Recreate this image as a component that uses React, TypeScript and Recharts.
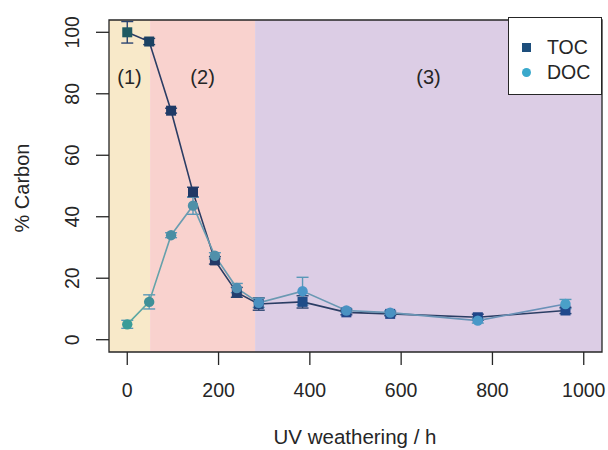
import {
  ComposedChart,
  ErrorBar,
  Legend,
  Line,
  ReferenceArea,
  XAxis,
  YAxis,
} from 'recharts';

// UV weathering time (h) and % carbon remaining
const hours = [0, 48, 96, 144, 192, 240, 288, 384, 480, 576, 768, 960];
const toc = [100, 97, 74.5, 48, 25.8, 15.4, 11.6, 12.3, 8.9, 8.4, 7.3, 9.5];
const tocSd = [3.5, 1, 0.8, 1.6, 1.2, 1.6, 2, 2, 0.8, 0.6, 1, 1];
const doc = [5, 12.3, 34, 43.6, 27.3, 16.8, 12, 15.8, 9.5, 8.8, 6.2, 11.6];
const docSd = [1.3, 2.3, 0.8, 2.8, 1, 1.5, 1.5, 4.5, 0.6, 0.6, 0.8, 1.5];

const stageLabels = ['(1)', '(2)', '(3)'];
const stageEdges = [-40, 50, 280, 1040];
const seriesNames = ['TOC', 'DOC'];

const xTicks = [0, 200, 400, 600, 800, 1000];
const yTicks = [0, 20, 40, 60, 80, 100];

const stageFills = ['#f8e9c9', '#f9d2ce', '#dccde5'];
const tocColors = ['#1f5a62', '#1b4262', '#1f3a66', '#1f3866', '#243a68', '#233f70',
  '#254a80', '#1f4c88', '#22468a', '#22488a', '#1f4488', '#20488c'];
const docColors = ['#3a9c98', '#3f9098', '#4a8ea4', '#4e90a8', '#5090aa', '#4f8eb2',
  '#4b90c0', '#4a96c8', '#4a92c2', '#4a92c2', '#4898c8', '#4aa0c8'];
const ink = '#262626';

const data = hours.map((h, i) => ({
  hour: h,
  toc: toc[i],
  tocSd: tocSd[i],
  doc: doc[i],
  docSd: docSd[i],
}));

const TocDot = (props: any) => {
  const { cx, cy, index } = props;
  if (cx == null || cy == null) return null;
  return <rect key={`t${index}`} x={cx - 5} y={cy - 5} width={10} height={10} fill={tocColors[index]} />;
};

const DocDot = (props: any) => {
  const { cx, cy, index } = props;
  if (cx == null || cy == null) return null;
  return <circle key={`d${index}`} cx={cx} cy={cy} r={5.2} fill={docColors[index]} />;
};

const XTick = (props: any) => (
  <text x={props.x} y={props.y + 23} textAnchor="middle" dominantBaseline="central" fontSize={19.5} fill={ink}>
    {props.payload.value}
  </text>
);

const YTick = (props: any) => {
  const x = props.x - 22;
  return (
    <text
      x={x}
      y={props.y}
      textAnchor="middle"
      dominantBaseline="central"
      fontSize={19.5}
      fill={ink}
      transform={`rotate(-90, ${x}, ${props.y})`}
    >
      {props.payload.value}
    </text>
  );
};

const LegendBox = () => (
  <div
    style={{
      border: `1.5px solid ${ink}`,
      background: '#fff',
      width: 94,
      height: 78,
      boxSizing: 'border-box',
      padding: '17px 0 0 13px',
      fontSize: 19.5,
      color: ink,
      lineHeight: '25px',
    }}
  >
    {seriesNames.map((name, i) => (
      <div key={name} style={{ display: 'flex', alignItems: 'center' }}>
        <span
          style={{
            display: 'inline-block',
            width: 9,
            height: 9,
            borderRadius: i === 0 ? 0 : '50%',
            background: i === 0 ? '#1d4e7c' : '#3aa9cc',
            marginRight: 16,
          }}
        />
        {name}
      </div>
    ))}
  </div>
);

export default function App() {
  return (
    <div
      style={{
        position: 'absolute',
        left: 0,
        top: 0,
        width: 608,
        height: 450,
        background: '#fff',
        fontFamily: '"Liberation Sans", Arial, sans-serif',
      }}
    >
      <ComposedChart width={608} height={450} data={data} margin={{ top: 20, right: 6, bottom: 0, left: 0 }}>
        <defs>
          <linearGradient id="docStroke" x1="0" y1="0" x2="1" y2="0">
            <stop offset="0%" stopColor="#5aaaa0" />
            <stop offset="12%" stopColor="#6a9cb0" />
            <stop offset="100%" stopColor="#6a90b8" />
          </linearGradient>
        </defs>
        <XAxis
          dataKey="hour"
          type="number"
          domain={[-40, 1040]}
          ticks={xTicks}
          allowDataOverflow
          height={98}
          axisLine={false}
          tickSize={13}
          tickLine={{ stroke: ink, strokeWidth: 1.3 }}
          tick={<XTick />}
          label={{
            content: () => (
              <text x={355} y={444} textAnchor="middle" fontSize={20.5} fill={ink}>
                UV weathering / h
              </text>
            ),
          }}
        />
        <YAxis
          type="number"
          domain={[-4, 104]}
          ticks={yTicks}
          allowDataOverflow
          width={109}
          axisLine={false}
          tickSize={13}
          tickLine={{ stroke: ink, strokeWidth: 1.3 }}
          tick={<YTick />}
          label={{
            content: () => (
              <text
                x={22}
                y={188}
                textAnchor="middle"
                dominantBaseline="central"
                fontSize={20}
                fill={ink}
                transform="rotate(-90, 22, 188)"
              >
                % Carbon
              </text>
            ),
          }}
        />
        {stageLabels.map((lab, i) => (
          <ReferenceArea
            key={lab}
            x1={stageEdges[i]}
            x2={stageEdges[i + 1]}
            y1={-4}
            y2={104}
            fill={stageFills[i]}
            fillOpacity={1}
            stroke="none"
            label={{ value: lab, position: 'insideTop', offset: 50, fontSize: 20, fill: ink }}
          />
        ))}
        <ReferenceArea x1={-40} x2={1040} y1={-4} y2={104} fill="none" stroke={ink} strokeWidth={1.3} />
        <Line
          dataKey="toc"
          name={seriesNames[0]}
          stroke="#2b3d64"
          strokeWidth={1.6}
          dot={<TocDot />}
          activeDot={false}
          isAnimationActive={false}
        >
          <ErrorBar dataKey="tocSd" direction="y" width={6} stroke="#2a4470" strokeWidth={1.4} />
        </Line>
        <Line
          dataKey="doc"
          name={seriesNames[1]}
          stroke="url(#docStroke)"
          strokeWidth={1.6}
          dot={<DocDot />}
          activeDot={false}
          isAnimationActive={false}
        >
          <ErrorBar dataKey="docSd" direction="y" width={6} stroke="#5a98b8" strokeWidth={1.4} />
        </Line>
        <Legend
          layout="horizontal"
          verticalAlign="middle"
          align="center"
          wrapperStyle={{ position: 'absolute', top: 17, left: 508, width: 94, height: 78 }}
          content={() => <LegendBox />}
        />
      </ComposedChart>
    </div>
  );
}
